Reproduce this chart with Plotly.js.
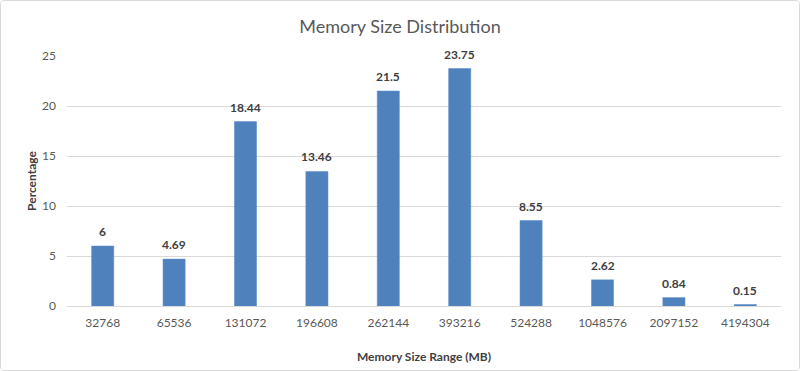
<!DOCTYPE html>
<html>
<head>
<meta charset="utf-8">
<script src="https://cdn.plot.ly/plotly-3.0.1.min.js"></script>
<style>
html,body{margin:0;padding:0;background:#fff;}
#chart{width:798px;height:369px;border:1px solid #d9d9d9;border-radius:4px;overflow:hidden;}
</style>
</head>
<body>
<div id="chart"></div>
<script>
const categories = ["32768","65536","131072","196608","262144","393216","524288","1048576","2097152","4194304"];
const percentages = [6, 4.69, 18.44, 13.46, 21.5, 23.75, 8.55, 2.62, 0.84, 0.15];
const labels = ["6","4.69","18.44","13.46","21.5","23.75","8.55","2.62","0.84","0.15"];
const yTicks = [0, 5, 10, 15, 20, 25];

const FONT = "Lato, 'Open Sans', sans-serif";
const trace = {
  type: 'bar',
  x: categories,
  y: percentages,
  cliponaxis: false,
  marker: {color: '#4f81bd', line: {color: '#5b8cc8', width: 0.5}},
  hoverinfo: 'x+y'
};
// category axis: annotation x given as category index
const annotations = categories.map((c, i) => ({
  x: i, y: percentages[i], xref: 'x', yref: 'y',
  text: '<b>' + labels[i] + '</b>',
  showarrow: false, yanchor: 'bottom', yshift: 5,
  font: {family: FONT, size: 12, color: '#404040'}
}));
const layout = {
  width: 798, height: 369,
  margin: {l: 66, r: 18, t: 55, b: 64},
  paper_bgcolor: '#fff', plot_bgcolor: '#fff',
  bargap: 0.69,
  showlegend: false,
  annotations: annotations,
  font: {family: FONT, color: '#595959', size: 12},
  title: {text: 'Memory Size Distribution', font: {family: FONT, size: 18, color: '#595959'}, x: 0.5, xanchor: 'center', y: 0.93, yanchor: 'middle'},
  xaxis: {
    type: 'category',
    categoryorder: 'array', categoryarray: categories,
    showgrid: false,
    showline: true, linecolor: '#d9d9d9', linewidth: 1,
    ticks: '', ticklabelstandoff: 6,
    tickfont: {family: FONT, size: 12, color: '#595959'},
    title: {text: 'Memory Size Range (MB)', font: {family: FONT, size: 12, color: '#404040', weight: 'bold'}, standoff: 23}
  },
  yaxis: {
    range: [0, 25],
    tickvals: yTicks,
    showgrid: true, gridcolor: '#d9d9d9', gridwidth: 1,
    zeroline: false, showline: false,
    ticks: '', ticklabelstandoff: 10,
    tickfont: {family: FONT, size: 12, color: '#595959'},
    title: {text: 'Percentage', font: {family: FONT, size: 12, color: '#404040', weight: 'bold'}, standoff: 2}
  }
};
Plotly.newPlot('chart', [trace], layout, {displayModeBar: false, staticPlot: true});
</script>
</body>
</html>
